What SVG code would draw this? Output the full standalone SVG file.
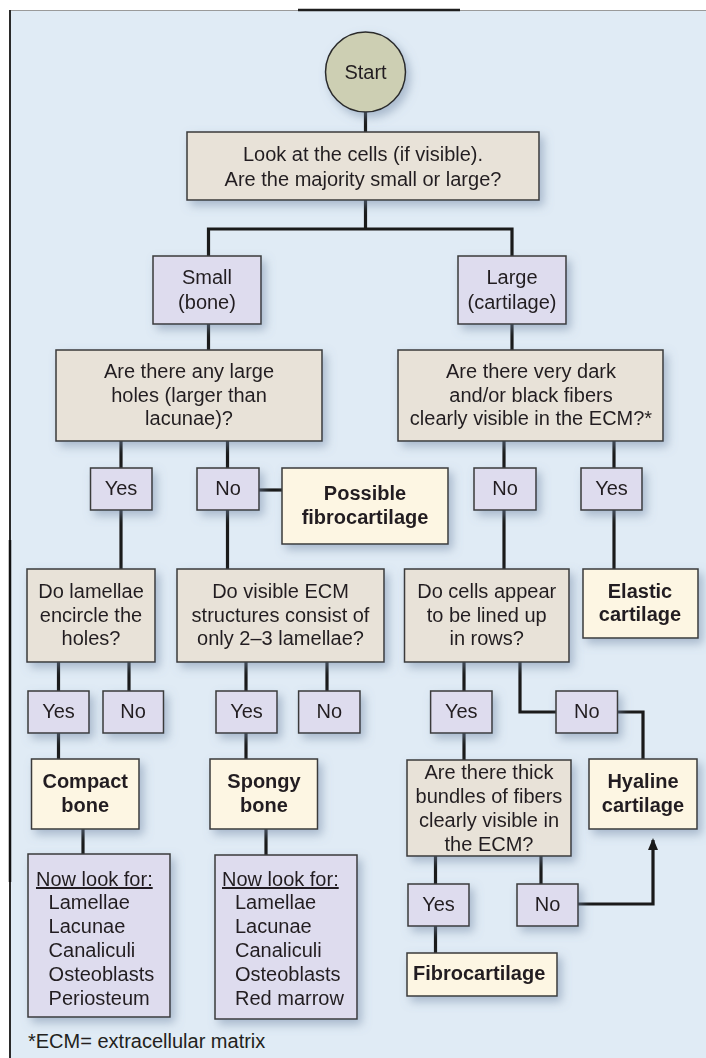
<svg xmlns="http://www.w3.org/2000/svg" width="706" height="1058" viewBox="0 0 706 1058">
<style>
.q{fill:#e8e2d8;stroke:#3a3a3a;stroke-width:1.5}
.c{fill:#dedcee;stroke:#3a3a3a;stroke-width:1.5}
.r{fill:#fdf6e3;stroke:#3a3a3a;stroke-width:1.5}
.s{fill:#cdcfb3;stroke:#2a2a2a;stroke-width:1.5}
text{font-family:"Liberation Sans",Arial,sans-serif;font-size:20px;fill:#231f20}
.m{text-anchor:middle}
.b{font-weight:bold}
.ln{fill:none;stroke:#1a1a1a;stroke-width:3.2}
.sh{filter:url(#shadow)}
</style>
<defs>
<filter id="shadow" x="-20%" y="-20%" width="150%" height="160%">
<feDropShadow dx="4" dy="5" stdDeviation="5" flood-color="#6f86a3" flood-opacity="0.5"/>
</filter>
<marker id="arrow" viewBox="0 0 12 10" refX="10" refY="5" markerWidth="12" markerHeight="10" markerUnits="userSpaceOnUse" orient="auto">
<path d="M0,0 L12,5 L0,10 z" fill="#1a1a1a"/>
</marker>
</defs>
<rect x="0" y="0" width="706" height="1058" fill="#ffffff"/>
<rect x="9" y="10" width="697" height="1048" fill="#e0ebf5"/>
<g id="frame">
<line x1="9" y1="10.5" x2="706" y2="10.5" stroke="#9a9a9a" stroke-width="1"/>
<line x1="298" y1="10" x2="460" y2="10" stroke="#1e1e1e" stroke-width="2.5"/>
<line x1="10" y1="10" x2="10" y2="1058" stroke="#2a2a2a" stroke-width="2"/>
<line x1="10" y1="540" x2="10" y2="882" stroke="#111111" stroke-width="2.5"/>
</g>
<g id="connectors">
<path class="ln" d="M365.5 112 V132"/>
<path class="ln" d="M365.5 200 V229"/>
<path class="ln" d="M208.5 256 V229 H512 V256"/>
<path class="ln" d="M208.5 324 V350"/>
<path class="ln" d="M512 324 V350"/>
<path class="ln" d="M121 441 V468"/>
<path class="ln" d="M227.5 441 V468"/>
<path class="ln" d="M259 490 H282"/>
<path class="ln" d="M504 441 V468"/>
<path class="ln" d="M614 441 V468"/>
<path class="ln" d="M121 510 V569"/>
<path class="ln" d="M227.5 510 V569"/>
<path class="ln" d="M504 510 V569"/>
<path class="ln" d="M614 510 V569"/>
<path class="ln" d="M58.5 662 V691"/>
<path class="ln" d="M129 662 V691"/>
<path class="ln" d="M246 662 V691"/>
<path class="ln" d="M327 662 V691"/>
<path class="ln" d="M464 662 V691"/>
<path class="ln" d="M520 662 V712 H556"/>
<path class="ln" d="M617.5 712 H643 V759"/>
<path class="ln" d="M58.5 733 V759"/>
<path class="ln" d="M246 733 V759"/>
<path class="ln" d="M464 733 V760"/>
<path class="ln" d="M83 829 V854"/>
<path class="ln" d="M266 829 V855"/>
<path class="ln" d="M435.5 856 V884"/>
<path class="ln" d="M541 856 V884"/>
<path class="ln" d="M435.5 926 V953"/>
<path class="ln" d="M578 904 H653 V840" marker-end="url(#arrow)"/>
</g>
<g id="start" class="sh"><circle class="s" cx="365.5" cy="72" r="40"/><text class="m" x="365.5" y="79">Start</text></g>
<g id="q1" class="sh"><rect class="q" x="187" y="132" width="352" height="68"/><text class="m" x="363" y="161">Look at the cells (if visible).</text><text class="m" x="363" y="186">Are the majority small or large?</text></g>
<g id="small" class="sh"><rect class="c" x="153" y="256" width="108" height="68"/><text class="m" x="207" y="284">Small</text><text class="m" x="207" y="309">(bone)</text></g>
<g id="large" class="sh"><rect class="c" x="458" y="256" width="108" height="68"/><text class="m" x="512" y="284">Large</text><text class="m" x="512" y="309">(cartilage)</text></g>
<g id="q2a" class="sh"><rect class="q" x="56" y="350" width="266" height="91"/><text class="m" x="189" y="378">Are there any large</text><text class="m" x="189" y="402">holes (larger than</text><text class="m" x="189" y="425">lacunae)?</text></g>
<g id="q2b" class="sh"><rect class="q" x="398" y="350" width="265" height="91"/><text class="m" x="531" y="378">Are there very dark</text><text class="m" x="531" y="402">and/or black fibers</text><text class="m" x="531" y="425">clearly visible in the ECM?*</text></g>
<g id="yes1" class="sh"><rect class="c" x="90.5" y="468" width="61.5" height="42"/><text class="m" x="121" y="495">Yes</text></g>
<g id="no1" class="sh"><rect class="c" x="197" y="468" width="62" height="42"/><text class="m" x="228" y="495">No</text></g>
<g id="possible" class="sh"><rect class="r" x="282" y="468" width="166" height="76"/><text class="m b" x="365" y="500">Possible</text><text class="m b" x="365" y="524">fibrocartilage</text></g>
<g id="no2" class="sh"><rect class="c" x="474" y="468" width="62" height="42"/><text class="m" x="505" y="495">No</text></g>
<g id="yes2" class="sh"><rect class="c" x="581" y="468" width="61" height="42"/><text class="m" x="611.5" y="495">Yes</text></g>
<g id="q3a" class="sh"><rect class="q" x="27" y="569" width="128" height="93"/><text class="m" x="91" y="598">Do lamellae</text><text class="m" x="91" y="622">encircle the</text><text class="m" x="91" y="645">holes?</text></g>
<g id="q3b" class="sh"><rect class="q" x="177" y="569" width="207" height="93"/><text class="m" x="280.5" y="598">Do visible ECM</text><text class="m" x="280.5" y="622">structures consist of</text><text class="m" x="280.5" y="645">only 2–3 lamellae?</text></g>
<g id="q3c" class="sh"><rect class="q" x="404.5" y="569" width="164.5" height="93"/><text class="m" x="486.7" y="598">Do cells appear</text><text class="m" x="486.7" y="622">to be lined up</text><text class="m" x="486.7" y="645">in rows?</text></g>
<g id="elastic" class="sh"><rect class="r" x="583" y="569" width="115" height="69"/><text class="m b" x="640" y="598">Elastic</text><text class="m b" x="640" y="621">cartilage</text></g>
<g id="yes3" class="sh"><rect class="c" x="28" y="691" width="61" height="42"/><text class="m" x="58.5" y="718">Yes</text></g>
<g id="no3" class="sh"><rect class="c" x="103" y="691" width="60.5" height="42"/><text class="m" x="133" y="718">No</text></g>
<g id="yes4" class="sh"><rect class="c" x="216" y="691" width="61" height="42"/><text class="m" x="246.5" y="718">Yes</text></g>
<g id="no4" class="sh"><rect class="c" x="298.6" y="691" width="61.4" height="42"/><text class="m" x="329.3" y="718">No</text></g>
<g id="yes5" class="sh"><rect class="c" x="430.6" y="691" width="61.4" height="42"/><text class="m" x="461.3" y="718">Yes</text></g>
<g id="no5" class="sh"><rect class="c" x="556" y="691" width="61.5" height="42"/><text class="m" x="586.8" y="718">No</text></g>
<g id="compact" class="sh"><rect class="r" x="31.5" y="759" width="107.5" height="70"/><text class="m b" x="85.25" y="788">Compact</text><text class="m b" x="85.25" y="812">bone</text></g>
<g id="spongy" class="sh"><rect class="r" x="210" y="759" width="107.5" height="70"/><text class="m b" x="264" y="788">Spongy</text><text class="m b" x="264" y="812">bone</text></g>
<g id="q4" class="sh"><rect class="q" x="407" y="760" width="164" height="96"/><text class="m" x="489" y="779">Are there thick</text><text class="m" x="489" y="803">bundles of fibers</text><text class="m" x="489" y="827">clearly visible in</text><text class="m" x="489" y="851">the ECM?</text></g>
<g id="hyaline" class="sh"><rect class="r" x="589" y="759" width="108" height="70"/><text class="m b" x="643" y="788">Hyaline</text><text class="m b" x="643" y="812">cartilage</text></g>
<g id="lookfor1" class="sh"><rect class="c" x="28" y="854" width="142" height="163"/><text x="36" y="886" text-decoration="underline">Now look for:</text><text x="48.6" y="909">Lamellae</text><text x="48.6" y="933">Lacunae</text><text x="48.6" y="957">Canaliculi</text><text x="48.6" y="981">Osteoblasts</text><text x="48.6" y="1005">Periosteum</text></g>
<g id="lookfor2" class="sh"><rect class="c" x="215" y="855" width="142" height="164"/><text x="222" y="886" text-decoration="underline">Now look for:</text><text x="235" y="909">Lamellae</text><text x="235" y="933">Lacunae</text><text x="235" y="957">Canaliculi</text><text x="235" y="981">Osteoblasts</text><text x="235" y="1005">Red marrow</text></g>
<g id="yes6" class="sh"><rect class="c" x="408" y="884" width="61" height="42"/><text class="m" x="438.5" y="911">Yes</text></g>
<g id="no6" class="sh"><rect class="c" x="517" y="884" width="61" height="42"/><text class="m" x="547.5" y="911">No</text></g>
<g id="fibro" class="sh"><rect class="r" x="407" y="953" width="150" height="43"/><text class="b" x="413" y="980">Fibrocartilage</text></g>
<g id="footnote"><text x="28" y="1048">*ECM= extracellular matrix</text></g>
</svg>
